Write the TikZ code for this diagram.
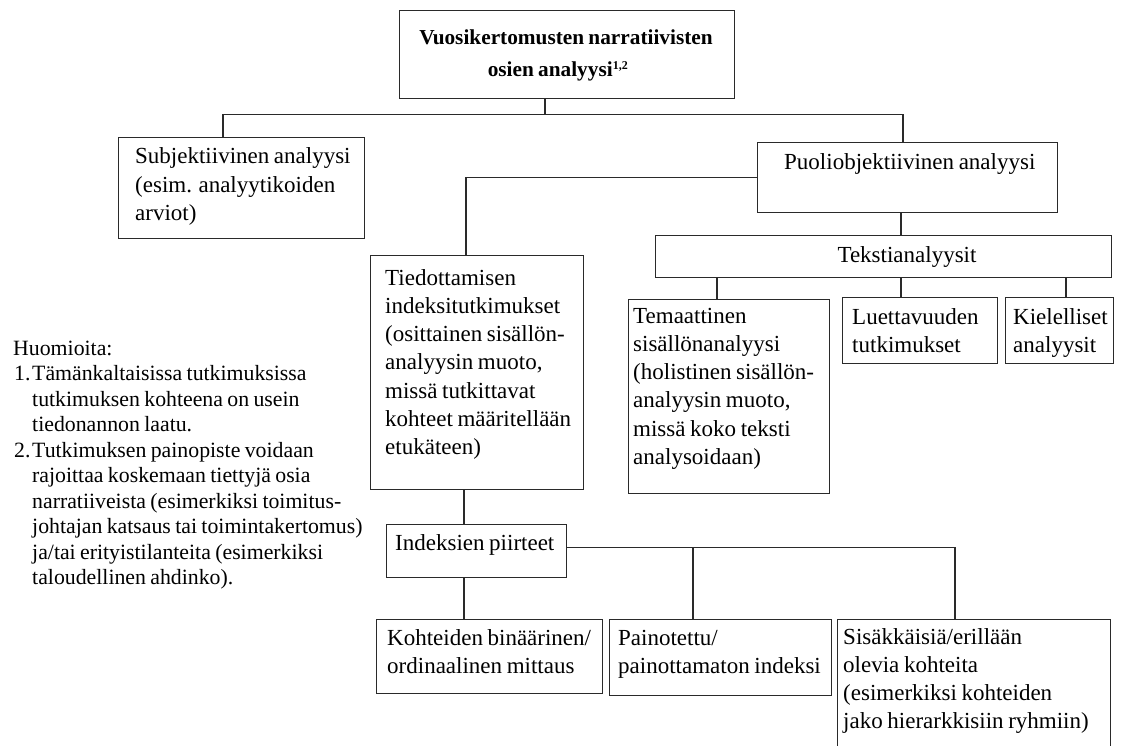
\documentclass[tikz,border=0pt]{standalone}
\usepackage{fontspec}
\setmainfont{Liberation Serif}[WordSpace=0.8]
\usetikzlibrary{calc}
\definecolor{lc}{HTML}{2A2A2A}
\newcommand\bxfont{\fontsize{23}{28.3}\selectfont}
\newcommand\ntfont{\fontsize{21.8}{25.5}\selectfont}
\newcommand\titlefnt{\fontsize{21.3}{32}\selectfont\bfseries}
\begin{document}
\begin{tikzpicture}[x=1pt,y=-1pt,
  bx/.style={draw=lc, line width=1.1pt, inner sep=0pt, anchor=north west},
  txt/.style={inner sep=0pt, anchor=base west, font=\bxfont, text=black},
  conn/.style={draw=lc, line width=1.1pt}]
\useasboundingbox (0,0) rectangle (1121,746);
\fill[white] (0,0) rectangle (1121,746);
\begin{scope}
\clip (0,0) rectangle (1121,746);
% boxes
\node[bx, minimum width=335pt, minimum height=88pt] (title) at (399,10) {};
\node[bx, minimum width=246pt, minimum height=101pt] (subj) at (118,137) {};
\node[bx, minimum width=300pt, minimum height=70pt] (puolio) at (757,142) {};
\node[bx, minimum width=456pt, minimum height=42pt] (teksti) at (655,235) {};
\node[bx, minimum width=213pt, minimum height=234pt] (tied) at (370,255) {};
\node[bx, minimum width=201pt, minimum height=194pt] (tema) at (628,299) {};
\node[bx, minimum width=155pt, minimum height=66pt] (luett) at (842,297) {};
\node[bx, minimum width=108pt, minimum height=66pt] (kiel) at (1005,297) {};
\node[bx, minimum width=180pt, minimum height=53pt] (indeks) at (386,524) {};
\node[bx, minimum width=226pt, minimum height=74pt] (kohde) at (376,619) {};
\node[bx, minimum width=222pt, minimum height=76pt] (paino) at (609,619) {};
\node[bx, minimum width=273pt, minimum height=140pt] (sisak) at (837,619) {};
% texts
\node[inner sep=0pt, anchor=base, font=\titlefnt] (title-t) at (566,45)
  {\parbox[t]{330pt}{\centering Vuosikertomusten narratiivisten\\\hspace*{-16pt}osien analyysi\textsuperscript{\fontsize{12}{12}\selectfont 1,2}}};
\node[txt] (subj-t) at (135,164) {\parbox[t]{300pt}{\raggedright Subjektiivinen analyysi\\(esim. analyytikoiden\\arviot)}};
\node[txt] (puolio-t) at (784,170) {Puoliobjektiivinen analyysi};
\node[txt, anchor=base] (teksti-t) at (907,262) {Tekstianalyysit};
\node[txt] (tied-t) at (385,285) {\parbox[t]{300pt}{\raggedright Tiedottamisen\\indeksitutkimukset\\(osittainen sisällön-\\analyysin muoto,\\missä tutkittavat\\kohteet määritellään\\etukäteen)}};
\node[txt] (tema-t) at (633,323) {\parbox[t]{300pt}{\raggedright Temaattinen\\sisällönanalyysi\\(holistinen sisällön-\\analyysin muoto,\\missä koko teksti\\analysoidaan)}};
\node[txt] (luett-t) at (852,324) {\parbox[t]{300pt}{\raggedright Luettavuuden\\tutkimukset}};
\node[txt] (kiel-t) at (1013,324) {\parbox[t]{300pt}{\raggedright Kielelliset\\analyysit}};
\node[txt] (indeks-t) at (395,550) {Indeksien piirteet};
\node[txt] (kohde-t) at (387,645) {\parbox[t]{300pt}{\raggedright Kohteiden binäärinen/\\ordinaalinen mittaus}};
\node[txt] (paino-t) at (618,645) {\parbox[t]{300pt}{\raggedright Painotettu/\\painottamaton indeksi}};
\node[txt] (sisak-t) at (843,644) {\parbox[t]{300pt}{\raggedright Sisäkkäisiä/erillään\\olevia kohteita\\(esimerkiksi kohteiden\\jako hierarkkisiin ryhmiin)}};
\node[txt, font=\ntfont] (notes) at (13,355) {\parbox[t]{360pt}{\raggedright
  Huomioita:\\
  \makebox[19pt][l]{\hspace{1pt}1.}Tämänkaltaisissa tutkimuksissa\\
  \hspace*{19pt}tutkimuksen kohteena on usein\\
  \hspace*{19pt}tiedonannon laatu.\\
  \makebox[19pt][l]{\hspace{1pt}2.}Tutkimuksen painopiste voidaan\\
  \hspace*{19pt}rajoittaa koskemaan tiettyjä osia\\
  \hspace*{19pt}narratiiveista (esimerkiksi toimitus-\\
  \hspace*{19pt}johtajan katsaus tai toimintakertomus)\\
  \hspace*{19pt}ja/tai erityistilanteita (esimerkiksi\\
  \hspace*{19pt}taloudellinen ahdinko).}};
% connectors
\path ([xshift=146pt]title.south west) ++(0,15) coordinate (bus);
\coordinate (sj) at ([xshift=105pt]subj.north west);
\coordinate (pj) at ([xshift=146pt]puolio.north west);
\draw[conn] ([xshift=146pt]title.south west) -- (bus);
\draw[conn] (sj) |- (bus) -| (pj);
\draw[conn] (puolio.west) -| ([xshift=96pt]tied.north west);
\draw[conn] ([xshift=144pt]puolio.south west) coordinate (p2) -- (p2 |- teksti.north);
\coordinate (tmj) at ([xshift=89pt]tema.north west);
\coordinate (luj) at ([xshift=59pt]luett.north west);
\coordinate (kij) at ([xshift=61pt]kiel.north west);
\draw[conn] (tmj |- teksti.south) -- (tmj);
\draw[conn] (luj |- teksti.south) -- (luj);
\draw[conn] (kij |- teksti.south) -- (kij);
\draw[conn] ([xshift=94pt]tied.south west) coordinate (tj) -- (tj |- indeks.north);
\coordinate (paj) at ([xshift=84pt]paino.north west);
\coordinate (saj) at ([xshift=118pt]sisak.north west);
\draw[conn] ([yshift=3.5pt]indeks.east) coordinate (ie) -| (saj);
\draw[conn] (paj |- ie) -- (paj);
\draw[conn] ([xshift=78pt]indeks.south west) coordinate (ij) -- (ij |- kohde.north);
\end{scope}
\end{tikzpicture}
\end{document}
